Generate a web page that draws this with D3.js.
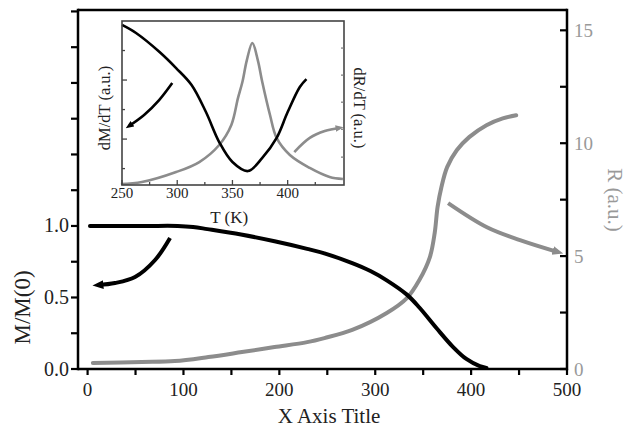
<!DOCTYPE html>
<html>
<head>
<meta charset="utf-8">
<script src="https://cdn.jsdelivr.net/npm/d3@7"></script>
<style>
  html, body { margin: 0; padding: 0; background: #fff; }
  svg { display: block; }
</style>
</head>
<body>
<svg id="chart" width="633" height="427"></svg>
<script>
// ---- Main panel: normalized magnetization (left) and resistance (right) ----
const magX = [2.5, 60, 94, 110, 125, 160, 195, 229, 247, 276, 295, 312, 333, 346, 364, 381, 395, 409, 416];
const magY = [1.0, 1.0, 1.0, 0.993, 0.978, 0.94, 0.893, 0.84, 0.808, 0.74, 0.685, 0.62, 0.52, 0.43, 0.285, 0.155, 0.07, 0.02, 0.008];

const resX = [5.5, 56.6, 91, 126, 161, 195, 229, 247, 276, 312, 333, 346, 357, 362, 365, 369, 375, 385, 398, 416, 433, 447];
const resY = [0.27, 0.31, 0.35, 0.53, 0.75, 0.97, 1.19, 1.37, 1.73, 2.48, 3.14, 3.94, 4.96, 6.02, 7.17, 8.05, 8.94, 9.69, 10.27, 10.8, 11.1, 11.24];

// axis indicator arrows (data coordinates of each curve's own axis)
const magArrowX = [86, 70.4, 49.5, 28.6, 10.8];
const magArrowY = [0.916, 0.762, 0.643, 0.601, 0.587];
const resArrowX = [376, 416.5, 451, 490.6];
const resArrowY = [7.35, 6.28, 5.71, 5.18];

const xTicksMajor = [0, 100, 200, 300, 400, 500];
const xTicksMinor = [50, 150, 250, 350, 450];
const magTicks = [0, 0.25, 0.5, 0.75, 1.0, 1.25, 1.5, 1.75, 2.0, 2.25, 2.5];
const magTickLabels = {0: "0.0", 0.5: "0.5", 1: "1.0"};
const resTicks = [0, 2.5, 5, 7.5, 10, 12.5, 15];
const resTickLabels = {0: "0", 5: "5", 10: "10", 15: "15"};

// ---- Inset: derivatives vs temperature ----
const dMT = [250, 262.7, 284, 299, 313, 326, 338, 350, 364, 377, 390, 400, 411, 417];
const dMV = [0.976, 0.927, 0.811, 0.713, 0.61, 0.445, 0.262, 0.14, 0.085, 0.165, 0.287, 0.445, 0.598, 0.646];
const dRT = [249, 268, 299, 320, 338, 349, 355, 359, 363, 368, 373, 377, 384, 390, 402, 420, 438, 450];
const dRV = [0.006, 0.018, 0.079, 0.14, 0.244, 0.366, 0.53, 0.628, 0.76, 0.866, 0.76, 0.628, 0.427, 0.287, 0.183, 0.104, 0.049, 0.037];
const dMArrowT = [295.5, 283.6, 270, 256.4];
const dMArrowV = [0.622, 0.518, 0.427, 0.36];
const dRArrowT = [406, 420, 433.6, 447];
const dRArrowV = [0.201, 0.287, 0.329, 0.348];

const insetTMajor = [250, 300, 350, 400];
const insetTMinor = [275, 325, 375, 425];
const insetLeftMajor = [0.28, 0.64];
const insetLeftMinor = [0.1, 0.46, 0.82];
const insetRightTicks = [0.17, 0.34, 0.505, 0.67, 0.835];

const BLACK = "#000";
const GRAY = "#8c8c8c";
const TEXT = "#222";
const FONT = "font-family:'Liberation Serif','Times New Roman',serif";

const svg = d3.select("#chart");

// arrowhead markers
const defs = svg.append("defs");
function marker(id, color, size) {
  defs.append("marker")
    .attr("id", id)
    .attr("viewBox", "0 0 10 10")
    .attr("refX", 5).attr("refY", 5)
    .attr("markerWidth", size).attr("markerHeight", size)
    .attr("markerUnits", "userSpaceOnUse")
    .attr("orient", "auto")
    .append("path").attr("d", "M0,1 L10,5 L0,9 Z").attr("fill", color);
}
marker("ahBlack", BLACK, 11);
marker("ahGray", GRAY, 11);
marker("ahBlackS", BLACK, 8);
marker("ahGrayS", GRAY, 8);

// ---- main scales ----
const L = 78, R = 567, T = 10, B = 369;
const x = d3.scaleLinear().domain([-10, 500]).range([L, R]);
const yM = d3.scaleLinear().domain([0, 2.51]).range([B, T]);
const yR = d3.scaleLinear().domain([0, 15.9]).range([B, T]);

const zip = (a, b) => a.map((v, i) => [v, b[i]]);

const smoothM = d3.line().x(d => x(d[0])).y(d => yM(d[1])).curve(d3.curveCatmullRom);
const smoothR = d3.line().x(d => x(d[0])).y(d => yR(d[1])).curve(d3.curveCatmullRom);

// data curves
svg.append("path").attr("d", smoothR(zip(resX, resY)))
  .attr("fill", "none").attr("stroke", GRAY).attr("stroke-width", 4).attr("stroke-linecap", "round");
svg.append("path").attr("d", smoothM(zip(magX, magY)))
  .attr("fill", "none").attr("stroke", BLACK).attr("stroke-width", 4).attr("stroke-linecap", "round");

svg.append("path").attr("d", smoothM(zip(magArrowX, magArrowY)))
  .attr("fill", "none").attr("stroke", BLACK).attr("stroke-width", 4)
  .attr("marker-end", "url(#ahBlack)");
svg.append("path").attr("d", smoothR(zip(resArrowX, resArrowY)))
  .attr("fill", "none").attr("stroke", GRAY).attr("stroke-width", 4)
  .attr("marker-end", "url(#ahGray)");

// frame
const frame = svg.append("g").attr("stroke", BLACK).attr("stroke-width", 2.5).attr("fill", "none");
frame.append("line").attr("x1", L).attr("x2", R).attr("y1", T).attr("y2", T);
frame.append("line").attr("x1", L).attr("x2", R).attr("y1", B).attr("y2", B);
frame.append("line").attr("x1", L).attr("x2", L).attr("y1", T - 1.2).attr("y2", B + 1.2);
frame.append("line").attr("x1", R).attr("x2", R).attr("y1", T - 1.2).attr("y2", B + 1.2);

// bottom ticks (outward)
const gx = svg.append("g");
gx.selectAll("line.t").data(xTicksMajor.concat(xTicksMinor)).join("line")
  .attr("x1", d => x(d)).attr("x2", d => x(d)).attr("y1", B).attr("y2", B + 6)
  .attr("stroke", BLACK).attr("stroke-width", 2.2);
gx.selectAll("text").data(xTicksMajor).join("text")
  .attr("x", d => x(d)).attr("y", B + 27).attr("text-anchor", "middle")
  .attr("style", FONT).attr("font-size", 19).attr("fill", TEXT).text(d => d);

// left ticks (outward)
const gl = svg.append("g");
gl.selectAll("line").data(magTicks).join("line")
  .attr("x1", L - 7).attr("x2", L).attr("y1", d => yM(d)).attr("y2", d => yM(d))
  .attr("stroke", BLACK).attr("stroke-width", 2.2);
gl.selectAll("text").data(magTicks.filter(d => d in magTickLabels)).join("text")
  .attr("x", L - 9).attr("y", d => yM(d) + 6.5).attr("text-anchor", "end")
  .attr("style", FONT).attr("font-size", 20).attr("fill", TEXT).text(d => magTickLabels[d]);

// right ticks (inward)
const gr = svg.append("g");
gr.selectAll("line").data(resTicks).join("line")
  .attr("x1", R - 7).attr("x2", R).attr("y1", d => yR(d)).attr("y2", d => yR(d))
  .attr("stroke", BLACK).attr("stroke-width", 2.2);
gr.selectAll("text").data(resTicks.filter(d => d in resTickLabels)).join("text")
  .attr("x", R + 7).attr("y", d => yR(d) + 6.5).attr("text-anchor", "start")
  .attr("style", FONT).attr("font-size", 19).attr("fill", "#999").text(d => resTickLabels[d]);

// axis titles
svg.append("text").attr("x", 329).attr("y", 423).attr("text-anchor", "middle")
  .attr("style", FONT).attr("font-size", 21).attr("fill", TEXT).text("X Axis Title");
svg.append("text").attr("transform", `translate(30,${(yM(0) + yM(1)) / 2 + 10}) rotate(-90)`)
  .attr("text-anchor", "middle").attr("style", FONT).attr("font-size", 23).attr("fill", TEXT).text("M/M(0)");
svg.append("text").attr("transform", `translate(608,200) rotate(90)`)
  .attr("text-anchor", "middle").attr("style", FONT).attr("font-size", 21).attr("fill", "#999").text("R (a.u.)");

// ---- inset ----
const iL = 122, iR = 344, iT = 21, iB = 185;
const ix = d3.scaleLinear().domain([250, 451]).range([iL, iR]);
const iy = d3.scaleLinear().domain([0, 1]).range([iB, iT]);
const inset = svg.append("g");
inset.append("rect").attr("x", iL).attr("y", iT).attr("width", iR - iL).attr("height", iB - iT)
  .attr("fill", "#fff");

const iLine = d3.line().x(d => ix(d[0])).y(d => iy(d[1])).curve(d3.curveCatmullRom);
inset.append("path").attr("d", iLine(zip(dRT, dRV)))
  .attr("fill", "none").attr("stroke", GRAY).attr("stroke-width", 2.6);
inset.append("path").attr("d", iLine(zip(dMT, dMV)))
  .attr("fill", "none").attr("stroke", BLACK).attr("stroke-width", 2.6);
inset.append("path").attr("d", iLine(zip(dMArrowT, dMArrowV)))
  .attr("fill", "none").attr("stroke", BLACK).attr("stroke-width", 2.6)
  .attr("marker-end", "url(#ahBlackS)");
inset.append("path").attr("d", iLine(zip(dRArrowT, dRArrowV)))
  .attr("fill", "none").attr("stroke", GRAY).attr("stroke-width", 2.6)
  .attr("marker-end", "url(#ahGrayS)");

inset.append("rect").attr("x", iL).attr("y", iT).attr("width", iR - iL).attr("height", iB - iT)
  .attr("fill", "none").attr("stroke", "#444").attr("stroke-width", 1.6);

// inset ticks (inward)
inset.selectAll("line.bx").data(insetTMajor).join("line").attr("class", "bx")
  .attr("x1", d => ix(d)).attr("x2", d => ix(d)).attr("y1", iB).attr("y2", iB - 5)
  .attr("stroke", "#444").attr("stroke-width", 1.3);
inset.selectAll("line.bxm").data(insetTMinor).join("line").attr("class", "bxm")
  .attr("x1", d => ix(d)).attr("x2", d => ix(d)).attr("y1", iB).attr("y2", iB - 3)
  .attr("stroke", "#444").attr("stroke-width", 1.3);
inset.selectAll("line.ly").data(insetLeftMajor).join("line").attr("class", "ly")
  .attr("x1", iL).attr("x2", iL + 5).attr("y1", d => iy(d)).attr("y2", d => iy(d))
  .attr("stroke", "#444").attr("stroke-width", 1.3);
inset.selectAll("line.lym").data(insetLeftMinor).join("line").attr("class", "lym")
  .attr("x1", iL).attr("x2", iL + 3).attr("y1", d => iy(d)).attr("y2", d => iy(d))
  .attr("stroke", "#444").attr("stroke-width", 1.3);
inset.selectAll("line.ry").data(insetRightTicks).join("line").attr("class", "ry")
  .attr("x1", iR).attr("x2", iR - 3).attr("y1", d => iy(d)).attr("y2", d => iy(d))
  .attr("stroke", "#777").attr("stroke-width", 1.2);
inset.selectAll("text.tl").data(insetTMajor).join("text").attr("class", "tl")
  .attr("x", d => ix(d)).attr("y", iB + 13).attr("text-anchor", "middle")
  .attr("style", FONT).attr("font-size", 15).attr("fill", TEXT).text(d => d);

inset.append("text").attr("x", ix(347)).attr("y", iB + 38).attr("text-anchor", "middle")
  .attr("style", FONT).attr("font-size", 17).attr("fill", TEXT).text("T (K)");
inset.append("text").attr("transform", `translate(110,108) rotate(-90)`)
  .attr("text-anchor", "middle").attr("style", FONT).attr("font-size", 16.5).attr("fill", TEXT).text("dM/dT (a.u.)");
inset.append("text").attr("transform", `translate(354,108) rotate(90)`)
  .attr("text-anchor", "middle").attr("style", FONT).attr("font-size", 16.5).attr("fill", TEXT).text("dR/dT (a.u.)");
</script>
</body>
</html>
